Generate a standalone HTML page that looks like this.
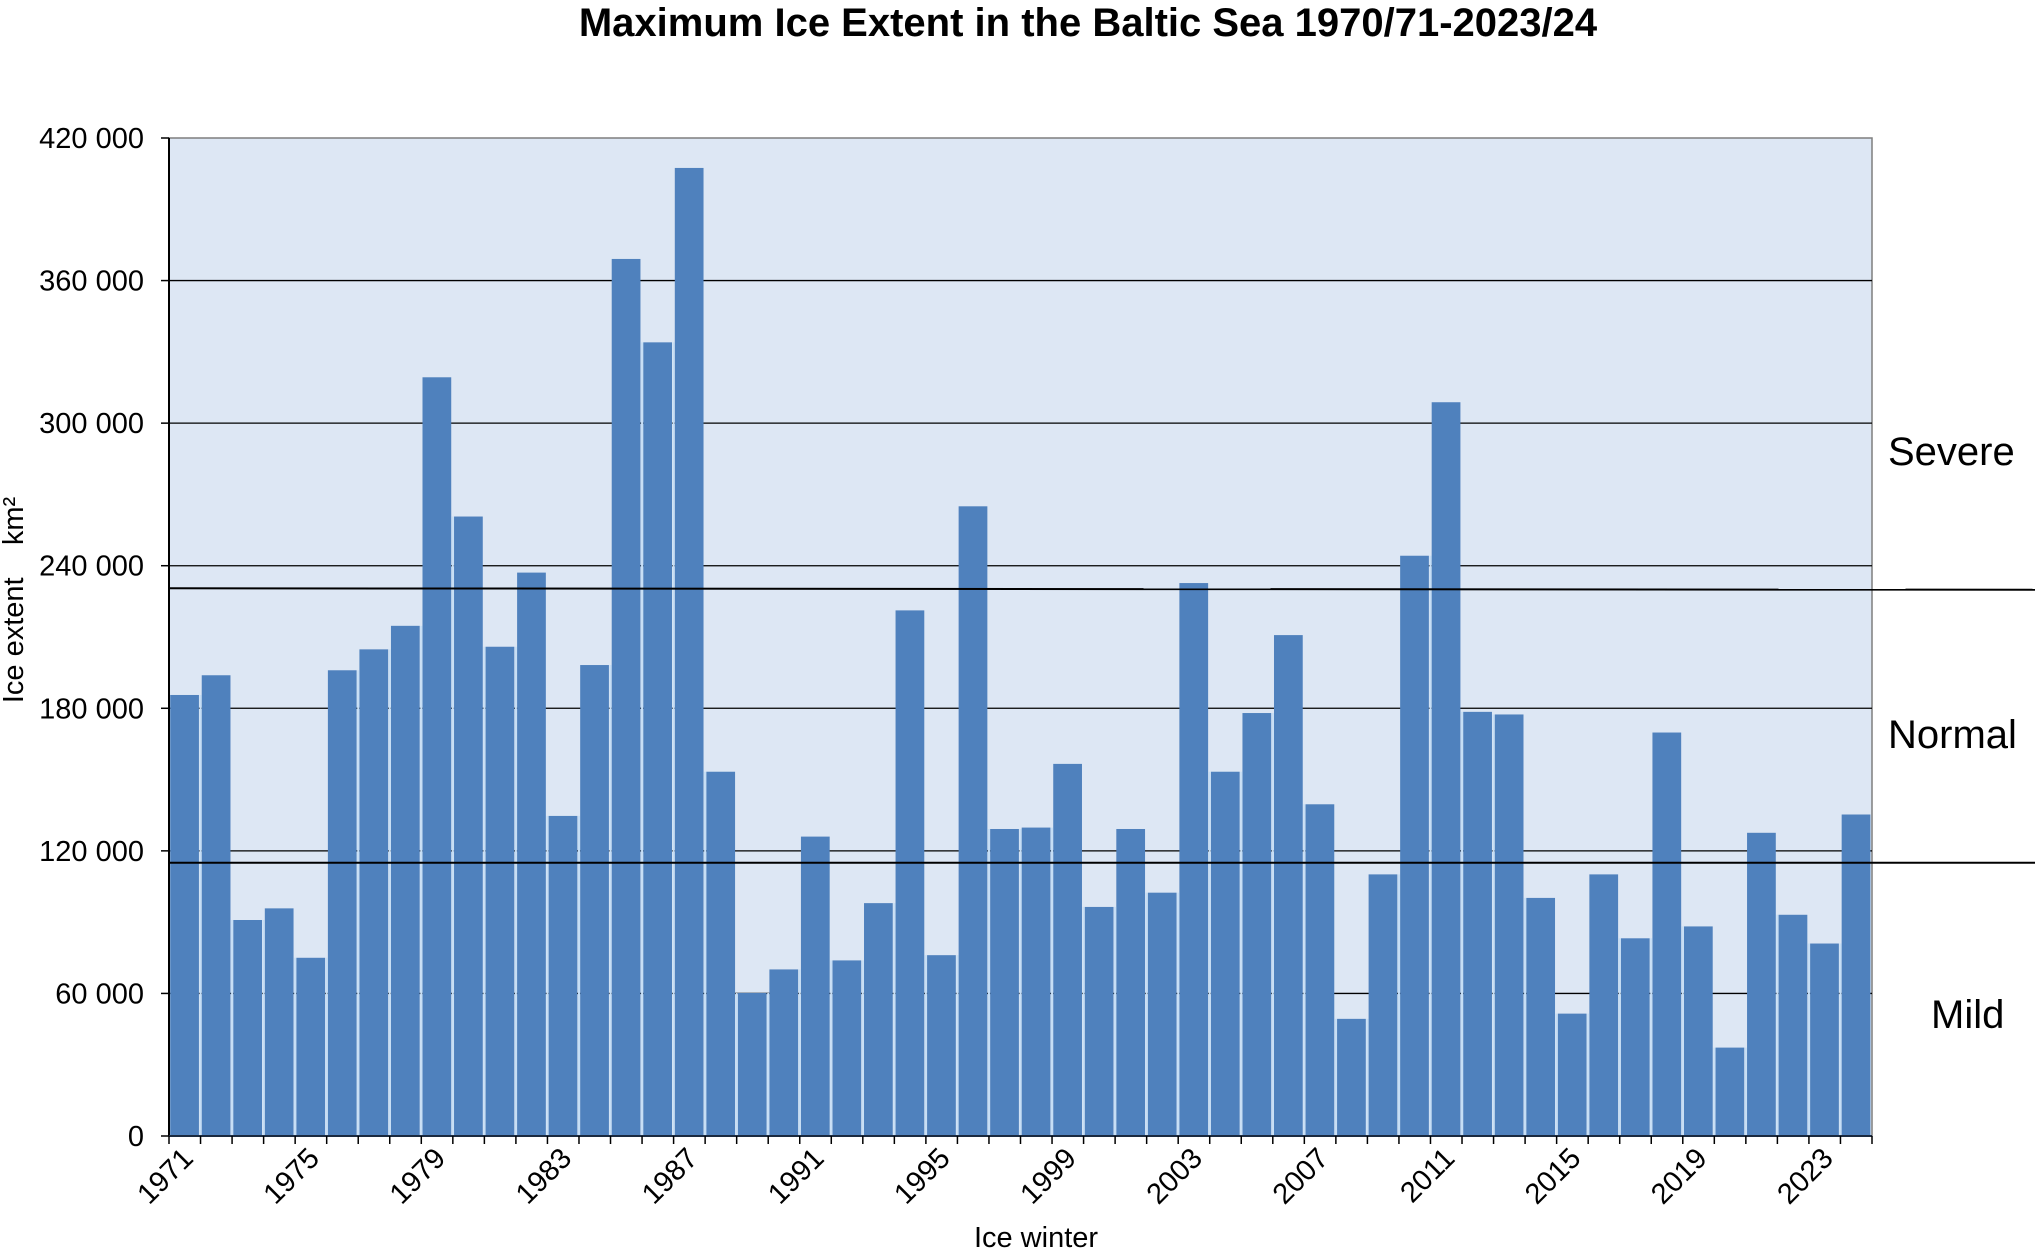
<!DOCTYPE html>
<html><head><meta charset="utf-8"><style>
html,body{margin:0;padding:0;background:#fff;}
svg{display:block;font-family:"Liberation Sans",Arial,sans-serif;}
</style></head><body>
<svg id="chart" width="2041" height="1252" viewBox="0 0 2041 1252" xmlns="http://www.w3.org/2000/svg">
<text x="1088" y="36" text-anchor="middle" font-size="40" font-weight="bold">Maximum Ice Extent in the Baltic Sea 1970/71-2023/24</text>
<rect x="169" y="138" width="1703" height="998" fill="#dde7f4" stroke="#7f7f7f" stroke-width="1.5"/>
<g id="grid"></g>
<g id="bars"></g>
<g id="axes"></g>
<text transform="translate(23,600) rotate(-90)" text-anchor="middle" font-size="29">Ice extent&#160;&#160;&#160;&#160;km²</text>
<text x="1036" y="1247" text-anchor="middle" font-size="29">Ice winter</text>
<text x="1888" y="465" font-size="40">Severe</text>
<text x="1888" y="748" font-size="40">Normal</text>
<text x="1931" y="1028" font-size="40">Mild</text>
</svg>
<script>
const years=[1971,1972,1973,1974,1975,1976,1977,1978,1979,1980,1981,1982,1983,1984,1985,1986,1987,1988,1989,1990,1991,1992,1993,1994,1995,1996,1997,1998,1999,2000,2001,2002,2003,2004,2005,2006,2007,2008,2009,2010,2011,2012,2013,2014,2015,2016,2017,2018,2019,2020,2021,2022,2023,2024];
const extent=[185600,193900,90900,95800,75000,196000,204800,214700,319300,260700,205900,237100,134700,198200,369100,334000,407400,153300,60200,70100,126000,73900,98000,221200,76100,265000,129200,129800,156600,96400,129200,102400,232700,153300,178000,210800,139600,49300,110100,244200,308800,178500,177400,100200,51500,110100,83200,169800,88200,37200,127600,93100,81000,135300];
const yTicks=[0,60000,120000,180000,240000,300000,360000,420000];
const yTickLabels=["0","60 000","120 000","180 000","240 000","300 000","360 000","420 000"];
const xLabelYears=[1971,1975,1979,1983,1987,1991,1995,1999,2003,2007,2011,2015,2019,2023];
const thresholds=[230500,115000];

const NS="http://www.w3.org/2000/svg";
const L=169,R=1872,T=138,B=1136,YMAX=420000;
const bw=(R-L)/years.length;
const y=v=>B-(v/YMAX)*(B-T);
const x=i=>L+i*bw;
function mk(tag,attrs,parent,text){const e=document.createElementNS(NS,tag);for(const k in attrs)e.setAttribute(k,attrs[k]);if(text!==undefined)e.textContent=text;document.getElementById(parent).appendChild(e);return e;}

yTicks.forEach((v,i)=>{
  if(v>0&&v<YMAX){const g=mk('line',{x1:L,x2:R,y1:y(v),y2:y(v),stroke:'#000','stroke-width':1.3},'grid');
  
  }
  const t=mk('line',{x1:L-8,x2:L,y1:y(v),y2:y(v),stroke:'#000','stroke-width':1.5},'axes');
  
  
  const lb=mk('text',{x:144,y:y(v)+10,'text-anchor':'end','font-size':29},'axes',yTickLabels[i]);
  
  
});
extent.forEach((v,i)=>{
  const b=mk('rect',{x:x(i)+1.2,y:y(v),width:bw-2.8,height:B-y(v),fill:'#4f81bd'},'bars');
  
  
  if(i>0){const s=mk('line',{x1:x(i),x2:x(i),y1:y(Math.min(v,extent[i-1])),y2:B,stroke:'#c6def5','stroke-width':2},'bars');
  
  }
});
const ax=mk('line',{x1:L,x2:L,y1:T,y2:B,stroke:'#000','stroke-width':2},'axes');


const bx=mk('line',{x1:L,x2:R,y1:B,y2:B,stroke:'#1a2a40','stroke-width':2},'axes');


for(let i=0;i<=years.length;i++){
  const t=mk('line',{x1:x(i),x2:x(i),y1:B,y2:B+8,stroke:'#000','stroke-width':1.5},'axes');
  
  
}
xLabelYears.forEach(yr=>{
  const i=years.indexOf(yr);const cx=x(i)+bw/2+10;
  const lb=mk('text',{x:cx,y:B+24,'text-anchor':'end','font-size':29,transform:`rotate(-45 ${cx} ${B+24})`},'axes',String(yr));
  
  
});
thresholds.forEach((v,i)=>{
  const l=mk('line',{x1:L,x2:2035,y1:y(v),y2:y(v)+(i===0?1.5:0),stroke:'#000','stroke-width':2},'axes');
  
  
});
</script>
</body></html>
